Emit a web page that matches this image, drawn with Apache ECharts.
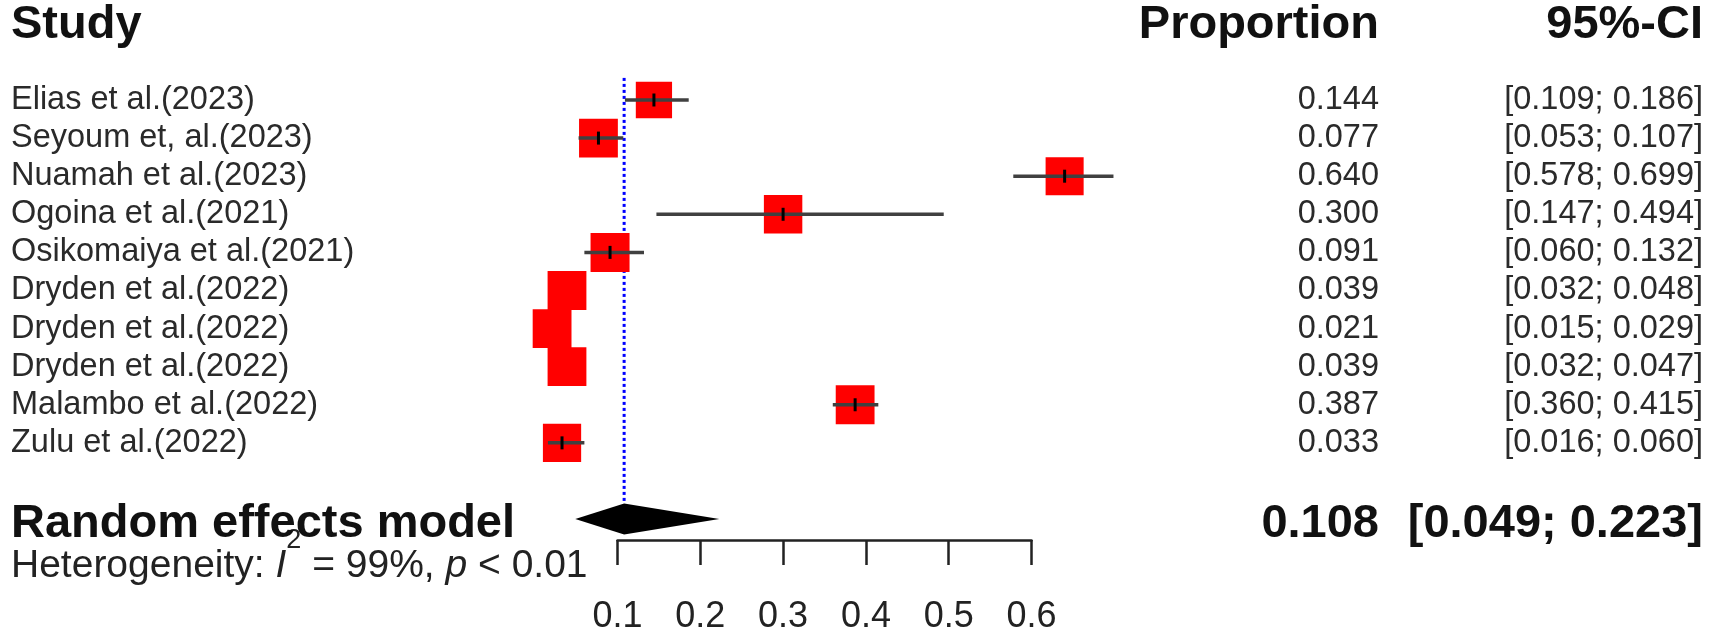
<!DOCTYPE html>
<html><head><meta charset="utf-8">
<script src="https://cdn.jsdelivr.net/npm/echarts@6/dist/echarts.min.js"></script>
<style>html,body{margin:0;padding:0;background:#fff}#c{width:1713px;height:638px}</style>
</head><body><div id="c"></div>
<script>
// ---- data ----
const studies = ["Elias et al.(2023)","Seyoum et, al.(2023)","Nuamah et al.(2023)","Ogoina et al.(2021)","Osikomaiya et al.(2021)","Dryden et al.(2022)","Dryden et al.(2022)","Dryden et al.(2022)","Malambo et al.(2022)","Zulu et al.(2022)"];
const proportion = [0.144,0.077,0.640,0.300,0.091,0.039,0.021,0.039,0.387,0.033];
const ciLower   = [0.109,0.053,0.578,0.147,0.060,0.032,0.015,0.032,0.360,0.016];
const ciUpper   = [0.186,0.107,0.699,0.494,0.132,0.048,0.029,0.047,0.415,0.060];
const weights   = [8.9,10.2,9.8,10.0,10.3,10.2,10.2,10.2,10.2,9.9];
const pooledLabel = "Random effects model";
const pooledEst = 0.108, pooledLower = 0.049, pooledUpper = 0.223;
const xTickValues = [0.1,0.2,0.3,0.4,0.5,0.6];
const hetI2 = "99%", hetP = "< 0.01";
const headers = ["Study","Proportion","95%-CI"];

// ---- style / layout ----
const FONT = "'Liberation Sans', Arial, sans-serif";
const BOX = 39;
const maxW = Math.max(...weights);
const X_LABEL = 11, X_PROP = 1379, X_CI = 1703;
const pooledRow = studies.length + 1;
const fmt = v => v.toFixed(3);
const BOLD = 47, REG = 32.5;

const chart = echarts.init(document.getElementById('c'), null, {renderer:'canvas'});

const studyData = studies.map((s,i)=>[proportion[i], ciLower[i], ciUpper[i], i, weights[i]]);
const textData = studies.map((s,i)=>[i]);

const option = {
  animation:false,
  backgroundColor:'#fff',
  grid:{left:617.5, width:414, top:100, height:440},
  xAxis:{type:'value', min:xTickValues[0], max:xTickValues[xTickValues.length-1], interval:0.1,
    axisLine:{onZero:false, lineStyle:{color:'#222', width:2.5}},
    axisTick:{length:25, lineStyle:{color:'#222', width:2.5}},
    splitLine:{show:false},
    axisLabel:{margin:59, fontSize:36, fontFamily:FONT, color:'#222', formatter:v=>v.toFixed(1)}
  },
  yAxis:{type:'value', min:0, max:11.55, inverse:true, show:false},
  graphic:[
    {type:'text', style:{x:X_LABEL, y:25, text:headers[0], align:'left', verticalAlign:'middle', fontSize:BOLD, fontWeight:'bold', fontFamily:FONT, fill:'#111'}},
    {type:'text', style:{x:X_PROP, y:25, text:headers[1], align:'right', verticalAlign:'middle', fontSize:BOLD, fontWeight:'bold', fontFamily:FONT, fill:'#111'}},
    {type:'text', style:{x:X_CI, y:25, text:headers[2], align:'right', verticalAlign:'middle', fontSize:BOLD, fontWeight:'bold', fontFamily:FONT, fill:'#111'}},
    {type:'text', left:X_LABEL, top:527, style:{
      text:'{a|Heterogeneity: }{i|I}{s|2}{a| = '+hetI2+', }{i|p}{a| '+hetP+'}',
      rich:{
        a:{fontSize:39, lineHeight:78, verticalAlign:'middle', fontFamily:FONT, fill:'#222'},
        i:{fontSize:39, lineHeight:78, verticalAlign:'middle', fontStyle:'italic', fontFamily:FONT, fill:'#222'},
        s:{fontSize:27, lineHeight:27, verticalAlign:'top', fontFamily:FONT, fill:'#222'}
      }}}
  ],
  series:[
    { // reference line + diamond
      type:'custom', clip:false, z:2,
      data:[[pooledEst, pooledLower, pooledUpper, pooledRow]],
      encode:{x:[0,1,2], y:3},
      renderItem:function(params, api){
        const est=api.value(0), lo=api.value(1), hi=api.value(2), row=api.value(3);
        const c=api.coord([est,row]), l=api.coord([lo,row]), h=api.coord([hi,row]);
        const top=api.coord([est,-0.58]);
        const hh=15.5;
        return {type:'group', children:[
          {type:'line', shape:{x1:c[0],y1:top[1],x2:c[0],y2:c[1]-hh}, style:{stroke:'#0000ff', lineWidth:3, lineDash:[3,3]}},
          {type:'polygon', shape:{points:[[l[0],c[1]],[c[0],c[1]-hh],[h[0],c[1]],[c[0],c[1]+hh]]}, style:{fill:'#000'}}
        ]};
      }
    },
    { // study squares and CIs
      type:'custom', clip:false, z:3,
      data:studyData,
      encode:{x:[0,1,2], y:3},
      renderItem:function(params, api){
        const est=api.value(0), lo=api.value(1), hi=api.value(2), row=api.value(3), w=api.value(4);
        const c=api.coord([est,row]), pl=api.coord([lo,row]), ph=api.coord([hi,row]);
        const s=BOX*Math.sqrt(w/maxW);
        const ch=[{type:'rect', shape:{x:c[0]-s/2, y:c[1]-s/2, width:s, height:s}, style:{fill:'#ff0000'}}];
        if(!(pl[0]>=c[0]-s/2 && ph[0]<=c[0]+s/2)){
          ch.push({type:'line', shape:{x1:pl[0],y1:c[1],x2:ph[0],y2:c[1]}, style:{stroke:'#404040', lineWidth:3.5}});
          ch.push({type:'line', shape:{x1:c[0],y1:c[1]-6.5,x2:c[0],y2:c[1]+6.5}, style:{stroke:'#000', lineWidth:3}});
        }
        return {type:'group', children:ch};
      }
    },
    { // row texts
      type:'custom', clip:false, z:4,
      data:textData,
      encode:{y:0},
      renderItem:function(params, api){
        const i=api.value(0);
        const y=api.coord([0.1,i])[1];
        const base={fontSize:REG, fontFamily:FONT, fill:'#2a2a2a', verticalAlign:'middle'};
        return {type:'group', children:[
          {type:'text', style:Object.assign({x:X_LABEL, y:y, text:studies[i], align:'left'}, base)},
          {type:'text', style:Object.assign({x:X_PROP, y:y, text:fmt(proportion[i]), align:'right'}, base)},
          {type:'text', style:Object.assign({x:X_CI, y:y, text:'['+fmt(ciLower[i])+'; '+fmt(ciUpper[i])+']', align:'right'}, base)}
        ]};
      }
    },
    { // pooled texts
      type:'custom', clip:false, z:4,
      data:[[pooledRow]],
      encode:{y:0},
      renderItem:function(params, api){
        const y=api.coord([0.1,api.value(0)])[1]+5;
        const base={fontSize:BOLD, fontWeight:'bold', fontFamily:FONT, fill:'#111', verticalAlign:'middle'};
        return {type:'group', children:[
          {type:'text', style:Object.assign({x:X_LABEL, y:y, text:pooledLabel, align:'left'}, base)},
          {type:'text', style:Object.assign({x:X_PROP, y:y, text:fmt(pooledEst), align:'right'}, base)},
          {type:'text', style:Object.assign({x:X_CI, y:y, text:'['+fmt(pooledLower)+'; '+fmt(pooledUpper)+']', align:'right'}, base)}
        ]};
      }
    }
  ]
};
chart.setOption(option);
</script></body></html>
